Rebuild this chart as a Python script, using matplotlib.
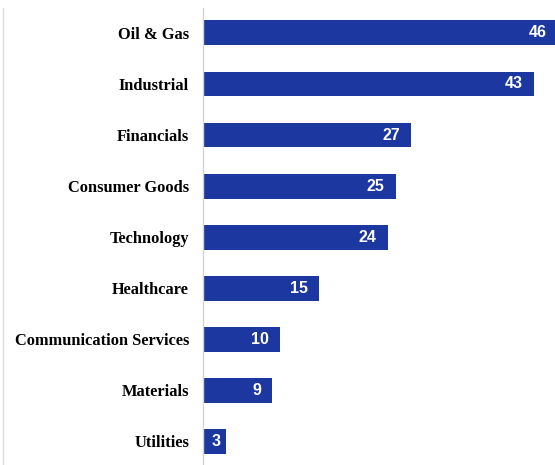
import matplotlib.pyplot as plt
from matplotlib.lines import Line2D

sectors = [
    "Oil & Gas",
    "Industrial",
    "Financials",
    "Consumer Goods",
    "Technology",
    "Healthcare",
    "Communication Services",
    "Materials",
    "Utilities",
]
counts = [46, 43, 27, 25, 24, 15, 10, 9, 3]

bar_color = "#1c37a0"

fig = plt.figure(figsize=(5.55, 4.65), dpi=100)
ax = fig.add_axes([203 / 555, 0.0, 1 - 203 / 555, 1 - 8 / 465])

pos = list(range(len(sectors)))
ax.barh(pos, counts, height=0.49, color=bar_color)

for y, v in zip(pos, counts):
    # short bars get a smaller inset so the number stays inside
    inset = -6 if v < 5 else -11
    ax.annotate(str(v), (v, y), xytext=(inset * 0.72, 0),
                textcoords="offset points", ha="right", va="center",
                color="white", fontsize=11.5, fontweight="bold",
                family="Liberation Sans", annotation_clip=False)

ax.set_xlim(0, 45.7)
ax.set_ylim(8.47, -0.49)
ax.set_yticks(pos)
ax.set_yticklabels(sectors, family="Liberation Serif", fontweight="bold",
                   fontsize=11.8)
ax.tick_params(axis="y", length=0, pad=10)
ax.set_xticks([])

for side in ["top", "right", "bottom"]:
    ax.spines[side].set_visible(False)
ax.spines["left"].set_color("#d4d4d4")
ax.spines["left"].set_linewidth(1.0)

# faint frame edge on the left of the page
fig.add_artist(Line2D([3 / 555, 3 / 555], [0, 1 - 8 / 465],
                      transform=fig.transFigure, color="#dcdcdc", lw=1.0))

fig.savefig("out.png", dpi=100)
